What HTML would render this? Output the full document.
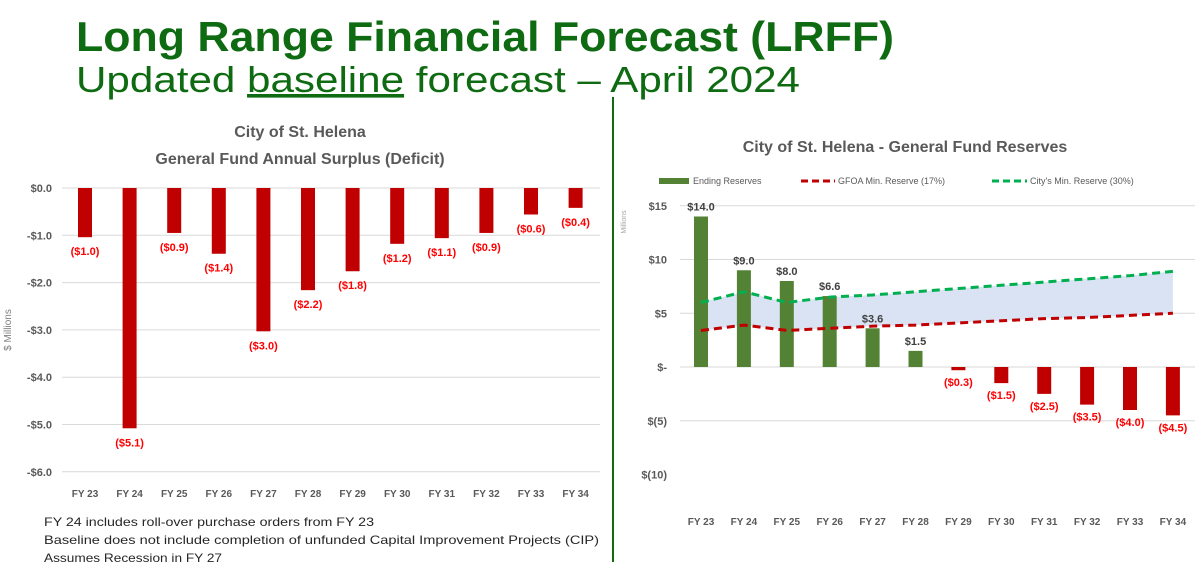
<!DOCTYPE html>
<html><head><meta charset="utf-8"><style>
body{margin:0;background:#fff;}
svg{display:block;font-family:"Liberation Sans",sans-serif;}
</style></head><body>
<svg width="1200" height="572" viewBox="0 0 1200 572">
<text x="76" y="51" font-size="42" font-weight="bold" fill="#0e6b12" textLength="818" lengthAdjust="spacingAndGlyphs">Long Range Financial Forecast (LRFF)</text>
<text x="76" y="92" font-size="36" fill="#0e6b12" textLength="724" lengthAdjust="spacingAndGlyphs">Updated <tspan text-decoration="underline">baseline</tspan> forecast – April 2024</text>
<line x1="613" y1="97" x2="613" y2="562" stroke="#0e6b12" stroke-width="2"/>
<g id="left">
<text x="300" y="137" font-size="16" font-weight="bold" fill="#595959" text-anchor="middle">City of St. Helena</text>
<text x="300" y="164" font-size="16" font-weight="bold" fill="#595959" text-anchor="middle">General Fund Annual Surplus (Deficit)</text>
<text transform="translate(11,330) rotate(-90)" font-size="10" fill="#7f7f7f" text-anchor="middle">$ Millions</text>
</g>
<g id="right">
<text x="905" y="152" font-size="16" font-weight="bold" fill="#595959" text-anchor="middle">City of St. Helena - General Fund Reserves</text>
<text transform="translate(626,222) rotate(-90)" font-size="7" fill="#a6a6a6" text-anchor="middle">Millions</text>
<g>
<rect x="659" y="178" width="30" height="6" fill="#548235"/>
<text x="693" y="184" font-size="9" fill="#595959">Ending Reserves</text>
<line x1="801" y1="181" x2="835" y2="181" stroke="#c00000" stroke-width="3" stroke-dasharray="7,4"/>
<text x="838" y="184" font-size="9" fill="#595959">GFOA Min. Reserve (17%)</text>
<line x1="992" y1="181" x2="1027" y2="181" stroke="#00b050" stroke-width="3" stroke-dasharray="7,4"/>
<text x="1030" y="184" font-size="9" fill="#595959">City's Min. Reserve (30%)</text>
</g>
</g>
<g>
<text x="44" y="526" font-size="12" fill="#262626" textLength="330" lengthAdjust="spacingAndGlyphs">FY 24 includes roll-over purchase orders from FY 23</text>
<text x="44" y="544" font-size="12" fill="#262626" textLength="555" lengthAdjust="spacingAndGlyphs">Baseline does not include completion of unfunded Capital Improvement  Projects (CIP)</text>
<text x="44" y="562" font-size="12" fill="#262626" textLength="178" lengthAdjust="spacingAndGlyphs">Assumes Recession in FY 27</text>
</g>
</svg>
<script>
const categories=["FY 23","FY 24","FY 25","FY 26","FY 27","FY 28","FY 29","FY 30","FY 31","FY 32","FY 33","FY 34"];
const surplus=[-1.04,-5.08,-0.95,-1.39,-3.03,-2.16,-1.76,-1.18,-1.06,-0.95,-0.56,-0.42];
const surplusLabels=["($1.0)","($5.1)","($0.9)","($1.4)","($3.0)","($2.2)","($1.8)","($1.2)","($1.1)","($0.9)","($0.6)","($0.4)"];
const leftTicks=[0,-1,-2,-3,-4,-5,-6];
const reserves=[14.0,9.0,8.0,6.6,3.6,1.5,-0.3,-1.5,-2.5,-3.5,-4.0,-4.5];
const reserveLabels=["$14.0","$9.0","$8.0","$6.6","$3.6","$1.5","($0.3)","($1.5)","($2.5)","($3.5)","($4.0)","($4.5)"];
const gfoaMin=[3.4,3.9,3.4,3.6,3.8,3.9,4.1,4.3,4.5,4.6,4.8,5.0];
const cityMin=[6.0,7.0,6.0,6.5,6.7,7.0,7.3,7.6,7.9,8.2,8.5,8.9];
const rightTicks=[15,10,5,0,-5,-10];
const rightTickLabels=["$15","$10","$5","$-","$(5)","$(10)"];

const NS="http://www.w3.org/2000/svg";
function mk(tag,attrs,parent,txt){const e=document.createElementNS(NS,tag);for(const k in attrs)e.setAttribute(k,attrs[k]);if(txt!==undefined)e.textContent=txt;parent.appendChild(e);return e;}
const L=document.getElementById('left'),R=document.getElementById('right');
const lx=i=>85+i*44.6, ly=v=>188-v*47.3;
leftTicks.forEach(t=>{
 const g=mk('line',{x1:62,x2:600,y1:ly(t),y2:ly(t),stroke:'#d9d9d9','stroke-width':1},L);
 
 
 const tx=mk('text',{x:52,y:ly(t)+4,'font-size':11,'font-weight':'bold',fill:'#595959','text-anchor':'end'},L,(t<0?'-':'')+'$'+Math.abs(t).toFixed(1));
 
 
});
categories.forEach((c,i)=>{
 const v=surplus[i];
 const b=mk('rect',{x:lx(i)-7,y:ly(Math.max(0,v)),width:14,height:Math.abs(ly(v)-ly(0)),fill:'#c00000'},L);
 
 
 const t=mk('text',{x:lx(i),y:ly(v)+18,'font-size':11,'font-weight':'bold',fill:'#ff0000','text-anchor':'middle'},L,surplusLabels[i]);
 
 
 const x=mk('text',{x:lx(i),y:497,'font-size':10,'font-weight':'bold',fill:'#595959','text-anchor':'middle'},L,c);
 
 
});
const rx=i=>701+i*42.9, ry=v=>367-v*10.75;
rightTicks.forEach((t,k)=>{
 if(t>-10){
 const g=mk('line',{x1:680,x2:1195,y1:ry(t),y2:ry(t),stroke:'#d9d9d9','stroke-width':1},R);
 
 }
 const tx=mk('text',{x:667,y:ry(t)+4,'font-size':11,'font-weight':'bold',fill:'#595959','text-anchor':'end'},R,rightTickLabels[k]);
 
 
});
let pts=cityMin.map((v,i)=>rx(i)+','+ry(v)).concat(gfoaMin.map((v,i)=>rx(i)+','+ry(v)).reverse());
const band=mk('polygon',{points:pts.join(' '),fill:'#dae3f3'},R);


categories.forEach((c,i)=>{
 const v=reserves[i];
 const b=mk('rect',{x:rx(i)-7,y:ry(Math.max(0,v)),width:14,height:Math.abs(ry(v)-ry(0)),fill:v>=0?'#548235':'#c00000'},R);
 
 
 const t=mk('text',{x:rx(i),y:v>=0?ry(v)-6:ry(v)+16,'font-size':11,'font-weight':'bold',fill:v>=0?'#404040':'#ff0000','text-anchor':'middle'},R,reserveLabels[i]);
 
 
 const x=mk('text',{x:rx(i),y:525,'font-size':10,'font-weight':'bold',fill:'#595959','text-anchor':'middle'},R,c);
 
 
});
[[gfoaMin,'#c00000','gfoa-line'],[cityMin,'#00b050','city-min-line']].forEach(([arr,col,nm])=>{
 const p=mk('polyline',{points:arr.map((v,i)=>rx(i)+','+ry(v)).join(' '),fill:'none',stroke:col,'stroke-width':3,'stroke-dasharray':'8,5'},R);
 
 
});
</script>
</body></html>
